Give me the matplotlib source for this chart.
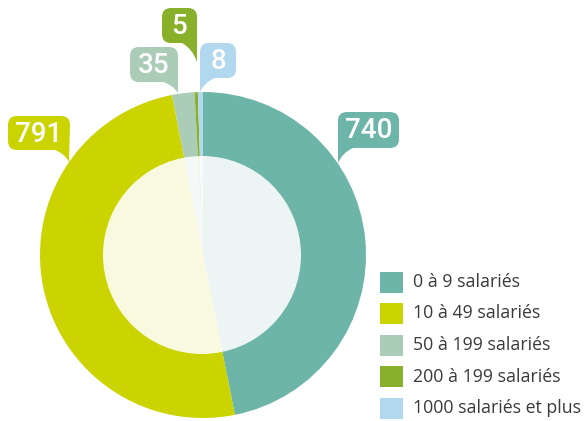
import numpy as np
import matplotlib
matplotlib.use("Agg")
from matplotlib import pyplot as plt
from matplotlib.path import Path
from matplotlib.patches import PathPatch, Circle, Rectangle


W, H = 586, 421  # Розмір полотна в пікселях

categories = ["0 à 9 salariés", "10 à 49 salariés", "50 à 199 salariés",
              "200 à 199 salariés", "1000 salariés et plus"]
values = [740, 791, 35, 5, 8]
colors = ["#6db5a8", "#cbd400", "#abcdb8", "#88b02a", "#b1d8ee"]

# Виноски: (x0, x1, y0, y1) рамки у пікселях (y вниз), кінчик хвоста, сторона
callouts = [
    ((338, 399, 112, 148), (338, 163), "left"),
    ((8, 70, 116, 150), (69, 162), "right"),
    ((130, 178, 47, 82), (178, 93), "right"),
    ((162, 197, 8, 43), (197, 62), "right"),
    ((200, 236, 43, 78), (200, 92), "left"),
]


def bubble(x0, x1, y0, y1, tip, side, r=9):
    """ Будує шлях рамки з округленими кутами та хвостом знизу
    (координати у пікселях, y вниз -> переводимо у y вгору)
    """
    f = lambda x, y: (x, H - y)
    tx, ty = tip
    verts, codes = [], []

    def move(p):
        verts.append(f(*p)); codes.append(Path.MOVETO)

    def line(p):
        verts.append(f(*p)); codes.append(Path.LINETO)

    def curve(c, p):
        verts.extend([f(*c), f(*p)]); codes.extend([Path.CURVE3] * 2)

    tw = 15  # ширина основи хвоста
    h = ty - y1  # висота хвоста
    move((x0 + r, y0))
    line((x1 - r, y0))
    curve((x1, y0), (x1, y0 + r))
    if side == "right":
        line((tx, ty))
        curve((tx - 0.3 * tw, y1 + 0.3 * h), (x1 - tw, y1))
        line((x0 + r, y1))
        curve((x0, y1), (x0, y1 - r))
    else:
        line((x1, y1 - r))
        curve((x1, y1), (x1 - r, y1))
        line((x0 + tw, y1))
        curve((tx + 0.3 * tw, y1 + 0.3 * h), (tx, ty))
    line((x0, y0 + r))
    curve((x0, y0), (x0 + r, y0))
    codes.append(Path.CLOSEPOLY); verts.append(verts[0])
    return Path(verts, codes)


fig = plt.figure(figsize=(W / 100, H / 100), dpi=100)
ax = fig.add_axes([0, 0, 1, 1])

cx, cy = 203, H - 255  # Центр кільця
wedges, _ = ax.pie(values, colors=colors, startangle=90, counterclock=False,
                   radius=163, center=(cx, cy),
                   wedgeprops=dict(linewidth=0))
# Бліда внутрішня частина
ax.add_patch(Circle((cx - 1, cy), 99, facecolor="white", alpha=0.88,
                    edgecolor="none", zorder=3))

# Виноски зі значеннями
for (box, tip, side), v, c in zip(callouts, values, colors):
    x0, x1, y0, y1 = box
    ax.add_patch(PathPatch(bubble(x0, x1, y0, y1, tip, side),
                           facecolor=c, edgecolor="none", zorder=4))
    ax.text((x0 + x1) / 2, H - (y0 + y1) / 2 - 1, str(v), color="white",
            fontsize=20, fontweight="medium", family="Roboto",
            ha="center", va="center", zorder=5)

# Легенда
for i, (lab, c) in enumerate(zip(categories, colors)):
    yc = 282 + i * 31.5
    ax.add_patch(Rectangle((380, H - yc - 10.5), 23, 21, facecolor=c,
                           edgecolor="none"))
    ax.text(413, H - yc, lab, color="#3a3a3a", fontsize=12.8,
            family="Open Sans", ha="left", va="center")

ax.set_xlim(0, W)
ax.set_ylim(0, H)
ax.set_aspect("equal")
ax.axis("off")

fig.savefig("out.png", dpi=100)
